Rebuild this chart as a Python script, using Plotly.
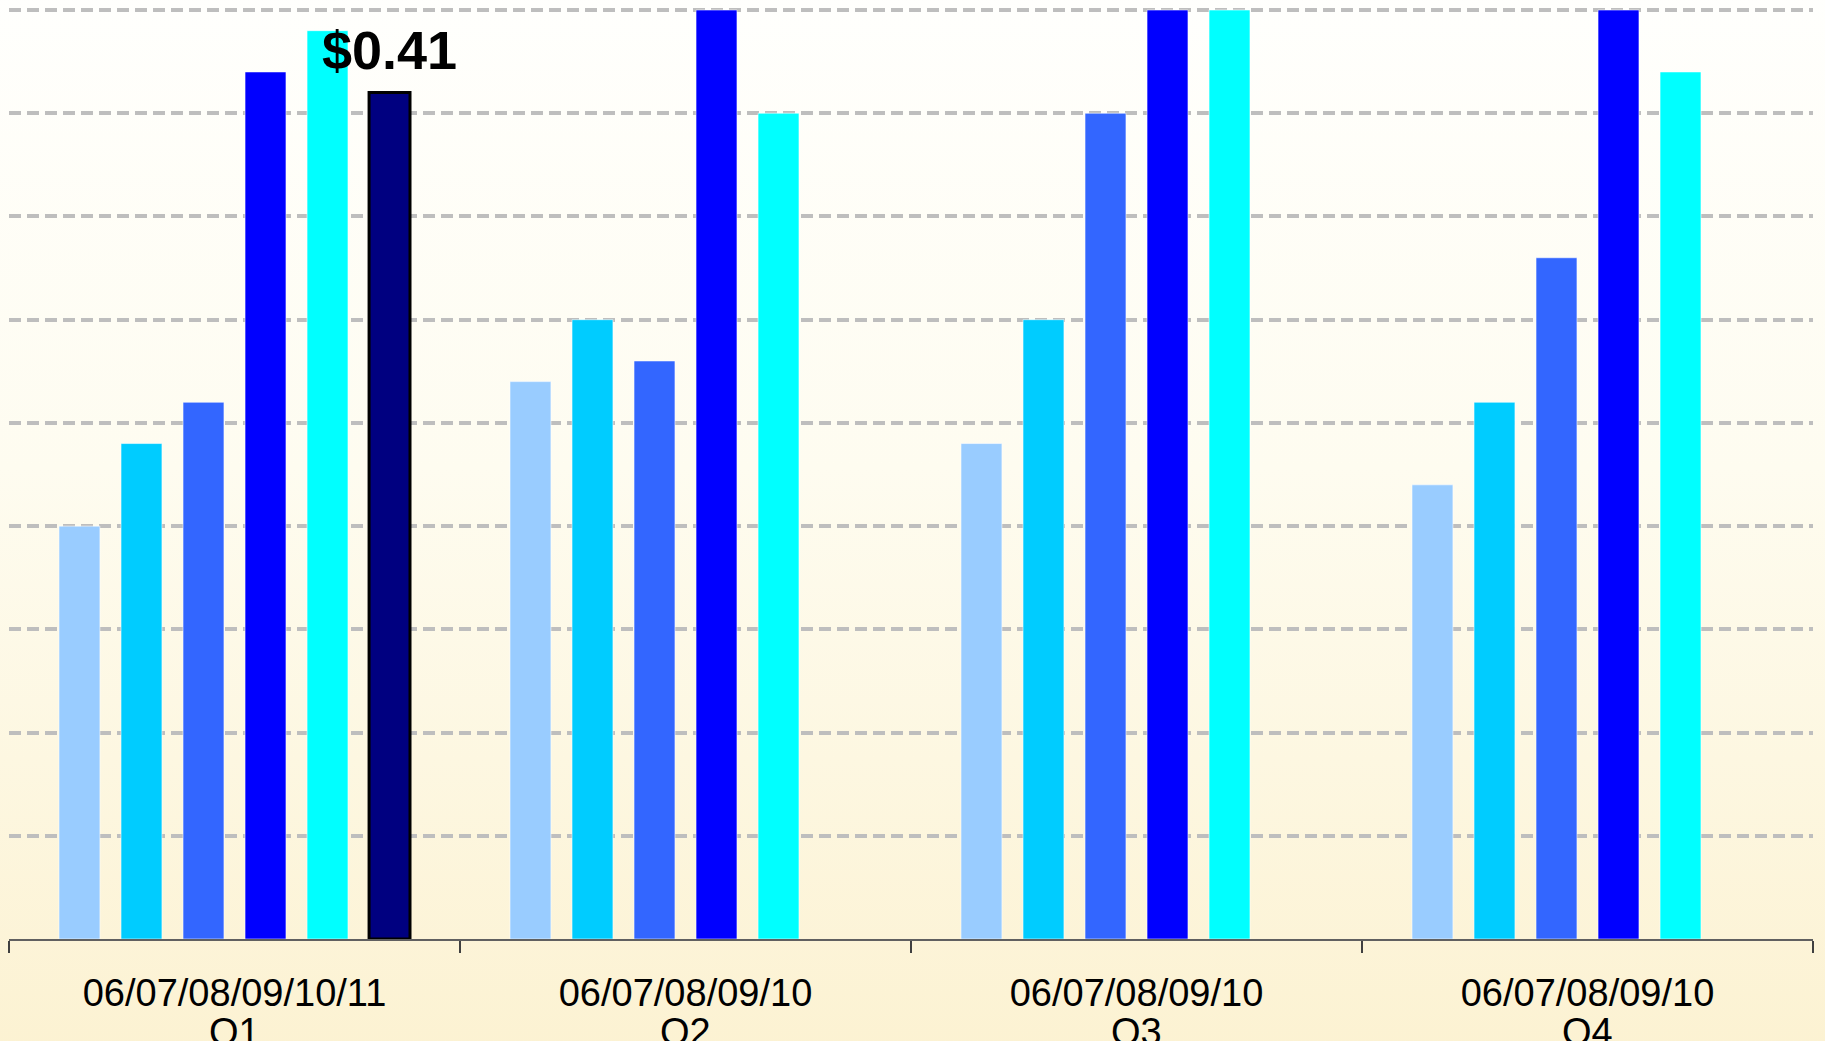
import base64
import plotly.graph_objects as go

# ---- data ----
quarters = ["Q1", "Q2", "Q3", "Q4"]
years = ["06", "07", "08", "09", "10", "11"]
eps_2006 = [0.20, 0.27, 0.24, 0.22]
eps_2007 = [0.24, 0.30, 0.30, 0.26]
eps_2008 = [0.26, 0.28, 0.40, 0.33]
eps_2009 = [0.42, 0.45, 0.45, 0.45]
eps_2010 = [0.44, 0.40, 0.45, 0.42]
eps_2011 = [0.41, None, None, None]
series = [eps_2006, eps_2007, eps_2008, eps_2009, eps_2010, eps_2011]
colors = ["#99ccff", "#00ccff", "#3366ff", "#0000ff", "#00ffff", "#000080"]
grid_vals = [0.05, 0.10, 0.15, 0.20, 0.25, 0.30, 0.35, 0.40, 0.45]

# tick labels: years that have data in each quarter
tick_labels = []
for qi in range(len(quarters)):
    ys = [years[i] for i, s in enumerate(series) if s[qi] is not None]
    tick_labels.append("/".join(ys))

W, H = 1825, 1041
ml, mr, mt, mb = 9, 12, 9, 102
pw, ph = W - ml - mr, H - mt - mb
BARGAP, GROUPGAP = 0.175, 0.34
n_series = len(series)

fig = go.Figure()
for i, (yr, vals, col) in enumerate(zip(years, series, colors)):
    is_last = i == n_series - 1
    fig.add_trace(go.Bar(
        x=quarters,
        y=vals,
        name="20" + yr,
        marker=dict(
            color=col,
            line=dict(color="#000000" if is_last else "rgba(255,255,255,0.55)",
                      width=3 if is_last else 1),
        ),
        hoverinfo="x+y+name",
    ))

# value label for the latest bar (placed above that bar within its group)
slot_px = pw / len(quarters) * (1 - BARGAP) / n_series
for qi, v in enumerate(eps_2011):
    if v is None:
        continue
    fig.add_annotation(
        x=quarters[qi], xref="x", y=v, yref="y",
        text="$%.2f" % v, showarrow=False,
        xanchor="center", yanchor="bottom",
        xshift=(n_series - 1 - (n_series - 1) / 2) * slot_px,
        yshift=11,
        font=dict(family="Liberation Sans, Arial, sans-serif", size=54,
                  color="#000000", weight="bold"),
    )

# background gradient as an SVG data URI
svg = ('<svg xmlns="http://www.w3.org/2000/svg" width="100" height="100" preserveAspectRatio="none">'
       '<defs><linearGradient id="g" x1="0" y1="0" x2="0" y2="1">'
       '<stop offset="0" stop-color="#fffffd"/>'
       '<stop offset="0.45" stop-color="#fefcf0"/>'
       '<stop offset="1" stop-color="#fcf2d2"/>'
       '</linearGradient></defs>'
       '<rect width="100" height="100" fill="url(#g)"/></svg>')
uri = "data:image/svg+xml;base64," + base64.b64encode(svg.encode()).decode()

fig.update_layout(
    width=W, height=H,
    margin=dict(l=ml, r=mr, t=mt, b=mb, pad=0, autoexpand=False),
    barmode="group",
    bargap=BARGAP,
    bargroupgap=GROUPGAP,
    showlegend=False,
    paper_bgcolor="#fdf6e0",
    plot_bgcolor="rgba(0,0,0,0)",
    font=dict(family="Liberation Sans, Arial, sans-serif", color="#000000"),
    images=[dict(
        source=uri, xref="paper", yref="paper",
        x=-ml / pw - 0.01, y=1 + mt / ph + 0.01,
        sizex=1 + (ml + mr) / pw + 0.02, sizey=1 + (mt + mb) / ph + 0.02,
        xanchor="left", yanchor="top", sizing="stretch", layer="below",
    )],
    xaxis=dict(
        type="category",
        categoryorder="array", categoryarray=quarters,
        tickmode="array", tickvals=quarters, ticktext=tick_labels,
        tickson="boundaries",
        ticks="outside", ticklen=12, tickwidth=1.5, tickcolor="#404040",
        showline=True, linecolor="#606060", linewidth=2,
        showgrid=False, zeroline=False,
        tickfont=dict(size=38, color="#000000"),
        ticklabelstandoff=19,
        automargin=False,
    ),
    yaxis=dict(
        range=[0, 0.4505],
        tickmode="array", tickvals=grid_vals,
        showticklabels=False, ticks="",
        showgrid=True, gridcolor="#bebebe", gridwidth=3.5, griddash="12px,6px",
        zeroline=False, showline=False,
        automargin=False,
    ),
)

for q in quarters:
    fig.add_annotation(
        x=q, xref="x", y=0, yref="paper",
        text=q, showarrow=False,
        yanchor="middle", yshift=-93,
        font=dict(size=38, color="#000000"),
    )

fig.write_html(
    "out.html",
    config={"displayModeBar": False},
    post_script="document.body.style.margin='0';document.body.style.background='#fcf2d2';",
)
